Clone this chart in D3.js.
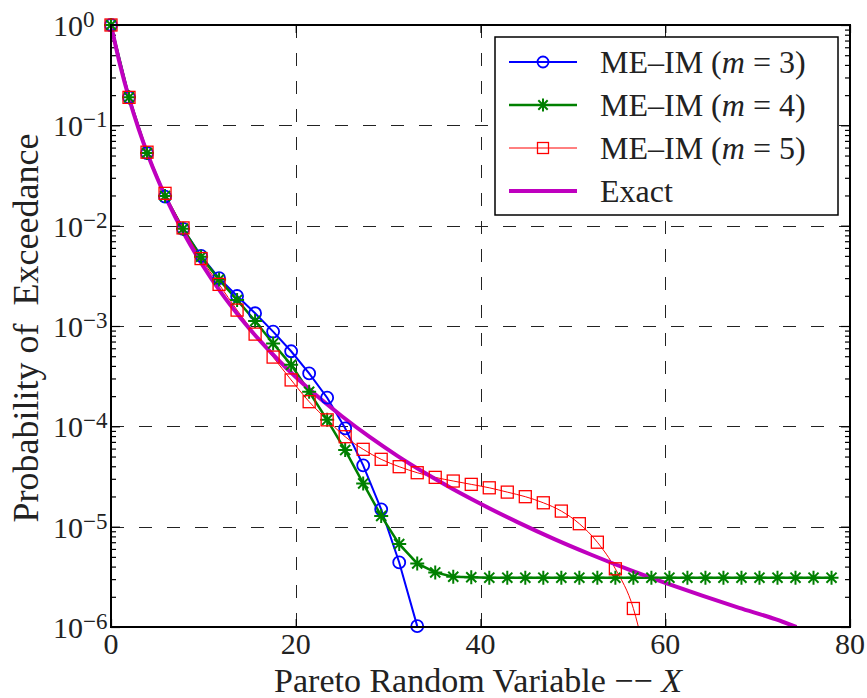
<!DOCTYPE html>
<html>
<head>
<meta charset="utf-8">
<script src="https://cdn.jsdelivr.net/npm/d3@7"></script>
<style>
  body { margin: 0; background: #fff; }
  text { font-family: "Liberation Serif", "Times New Roman", serif; fill: #222; }
</style>
</head>
<body>
<svg id="chart" width="867" height="698"></svg>
<script>
// x positions of the markers (same grid for the three ME-IM series)
var xVals = [0, 1.95, 3.9, 5.85, 7.8, 9.75, 11.7, 13.65, 15.6, 17.55, 19.5, 21.45, 23.4, 25.35,
  27.3, 29.25, 31.2, 33.15, 35.1, 37.05, 39, 40.95, 42.9, 44.85, 46.8, 48.75, 50.7, 52.65,
  54.6, 56.55, 58.5, 60.45, 62.4, 64.35, 66.3, 68.25, 70.2, 72.15, 74.1, 76.05, 78];

var m3 = [1.0, 0.19, 0.053, 0.0195, 0.0093, 0.0050, 0.0030, 0.00199, 0.00134, 0.00088, 0.00056,
  0.000337, 0.000193, 0.0000955, 0.0000409, 0.0000149, 0.0000044, 0.00000102];

var m4 = [1.0, 0.19, 0.053, 0.0198, 0.0093, 0.0049, 0.0029, 0.00182, 0.00112, 0.00067, 0.00041,
  0.000221, 0.000116, 0.000058, 0.000027, 0.0000128, 0.0000067, 0.0000043, 0.0000035, 0.00000317,
  0.00000313, 0.0000031, 0.0000031, 0.0000031, 0.0000031, 0.0000031, 0.0000031, 0.0000031,
  0.0000031, 0.0000031, 0.0000031, 0.0000031, 0.0000031, 0.0000031, 0.0000031, 0.0000031,
  0.0000031, 0.0000031, 0.0000031, 0.0000031, 0.0000031];

var m5 = [1.0, 0.19, 0.054, 0.021, 0.0095, 0.0047, 0.0026, 0.00144, 0.00083, 0.00049, 0.00029,
  0.000176, 0.000116, 0.0000788, 0.0000590, 0.0000469, 0.0000396, 0.0000345, 0.0000310,
  0.0000285, 0.0000264, 0.0000244, 0.0000221, 0.0000199, 0.0000173, 0.0000143, 0.0000107,
  0.0000070, 0.0000038, 0.00000153, 0.00000025];

var exactX = [0, 1, 2, 3, 4, 5, 6, 8, 10, 12, 14, 16, 18, 20, 22, 25, 28, 31, 34, 37, 40, 44,
  48, 52, 56, 60, 64, 68, 72, 74.2];
var exactY = [1.0, 0.394, 0.180, 0.0917, 0.0507, 0.0298, 0.0185, 0.00802, 0.00393, 0.00210,
  0.00121, 0.000736, 0.000469, 0.000310, 0.000212, 0.000126, 0.0000783, 0.0000508, 0.0000342,
  0.0000237, 0.0000169, 0.0000111, 0.00000752, 0.00000525, 0.00000375, 0.00000275, 0.00000205,
  0.00000155, 0.00000119, 0.0000010];

var xTicks = [0, 20, 40, 60, 80];
var yExps = [0, -1, -2, -3, -4, -5, -6];
var legendLabels = ["3", "4", "5"];

var svg = d3.select("#chart");
var L = 111, R = 850, T = 25, B = 627;

var x = d3.scaleLinear().domain([0, 80]).range([L, R]);
var y = d3.scaleLog().domain([1e-6, 1]).range([B, T]);

svg.append("defs").append("clipPath").attr("id", "clip")
  .append("rect").attr("x", L).attr("y", T).attr("width", R - L).attr("height", B - T);

// grid
var grid = svg.append("g").attr("stroke", "#222").attr("stroke-width", 1).attr("stroke-dasharray", "13,15");
grid.selectAll(".gx").data([20, 40, 60]).enter().append("line")
  .attr("x1", function (d) { return Math.round(x(d)) + 0.5; })
  .attr("x2", function (d) { return Math.round(x(d)) + 0.5; })
  .attr("y1", T).attr("y2", B);
grid.selectAll(".gy").data([-1, -2, -3, -4, -5]).enter().append("line")
  .attr("y1", function (d) { return Math.round(y(Math.pow(10, d))) + 0.5; })
  .attr("y2", function (d) { return Math.round(y(Math.pow(10, d))) + 0.5; })
  .attr("x1", L).attr("x2", R);

// axes ticks (inward), minor ticks on log axes
var minor = [];
for (var e = -6; e < 0; e++) {
  for (var k = 2; k <= 9; k++) minor.push(k * Math.pow(10, e));
}
var majors = yExps.map(function (d) { return Math.pow(10, d); });

function clean(g) {
  g.select(".domain").remove();
  g.selectAll(".tick line").attr("stroke", "#000").attr("stroke-width", 1.2);
  g.selectAll(".tick text").remove();
}
svg.append("g").attr("transform", "translate(0," + B + ")")
  .call(d3.axisBottom(x).tickValues(xTicks).tickSize(-8)).call(clean);
svg.append("g").attr("transform", "translate(0," + T + ")")
  .call(d3.axisTop(x).tickValues(xTicks).tickSize(-8)).call(clean);
svg.append("g").attr("transform", "translate(" + L + ",0)")
  .call(d3.axisLeft(y).tickValues(majors).tickSize(-9)).call(clean);
svg.append("g").attr("transform", "translate(" + L + ",0)")
  .call(d3.axisLeft(y).tickValues(minor).tickSize(-5)).call(clean);
svg.append("g").attr("transform", "translate(" + R + ",0)")
  .call(d3.axisRight(y).tickValues(majors).tickSize(-9)).call(clean);
svg.append("g").attr("transform", "translate(" + R + ",0)")
  .call(d3.axisRight(y).tickValues(minor).tickSize(-5)).call(clean);

// series
function pts(xs, ys) {
  return ys.map(function (v, i) { return [xs[i], v]; });
}
var line = d3.line().x(function (d) { return x(d[0]); }).y(function (d) { return y(d[1]); });
var smooth = d3.line().curve(d3.curveMonotoneX)
  .x(function (d) { return x(d[0]); }).y(function (d) { return y(d[1]); });

var plot = svg.append("g");
var lines = plot.append("g").attr("clip-path", "url(#clip)");

function starPath(s) {
  var d = s * 0.72;
  return "M" + (-s) + ",0H" + s + "M0," + (-s) + "V" + s +
    "M" + (-d) + "," + (-d) + "L" + d + "," + d + "M" + (-d) + "," + d + "L" + d + "," + (-d);
}
function inside(d) { return d[1] >= 1e-6 && d[1] <= 1 && d[0] <= 80; }

// m = 3
var s3 = pts(xVals, m3);
lines.append("path").datum(s3).attr("d", line).attr("fill", "none")
  .attr("stroke", "#0000ff").attr("stroke-width", 2);
plot.append("g").selectAll("circle").data(s3.filter(inside)).enter().append("circle")
  .attr("cx", function (d) { return x(d[0]); }).attr("cy", function (d) { return y(d[1]); })
  .attr("r", 6).attr("fill", "none").attr("stroke", "#0000ff").attr("stroke-width", 1.8);

// m = 4
var s4 = pts(xVals, m4);
lines.append("path").datum(s4).attr("d", line).attr("fill", "none")
  .attr("stroke", "#008000").attr("stroke-width", 2.5);
plot.append("g").selectAll("path").data(s4.filter(inside)).enter().append("path")
  .attr("transform", function (d) { return "translate(" + x(d[0]) + "," + y(d[1]) + ")"; })
  .attr("d", starPath(7)).attr("fill", "none").attr("stroke", "#008000").attr("stroke-width", 2);

// m = 5
var s5 = pts(xVals, m5);
lines.append("path").datum(s5).attr("d", smooth).attr("fill", "none")
  .attr("stroke", "#ff0000").attr("stroke-width", 1);
plot.append("g").selectAll("rect").data(s5.filter(inside)).enter().append("rect")
  .attr("x", function (d) { return x(d[0]) - 6; }).attr("y", function (d) { return y(d[1]) - 6; })
  .attr("width", 12).attr("height", 12)
  .attr("fill", "none").attr("stroke", "#ff0000").attr("stroke-width", 1.3);

// exact
lines.append("path").datum(pts(exactX, exactY)).attr("d", smooth).attr("fill", "none")
  .attr("stroke", "#bf00bf").attr("stroke-width", 4);

// axes box
svg.append("rect").attr("x", L).attr("y", T).attr("width", R - L).attr("height", B - T)
  .attr("fill", "none").attr("stroke", "#000").attr("stroke-width", 2);

// tick labels
svg.append("g").selectAll("text").data(xTicks).enter().append("text")
  .attr("x", function (d) { return x(d); }).attr("y", 654)
  .attr("text-anchor", "middle").attr("font-size", 30)
  .text(function (d) { return d; });

var yl = svg.append("g").selectAll("g").data(yExps).enter().append("g")
  .attr("transform", function (d) { return "translate(53," + y(Math.pow(10, d)) + ")"; });
yl.append("text").attr("x", 0).attr("y", 11).attr("font-size", 30).text("10");
yl.append("text").attr("x", 30).attr("y", 2).attr("font-size", 23)
  .text(function (d) { return d === 0 ? "0" : "\u2212" + (-d); });

// axis labels
var xl = svg.append("text").attr("x", 478).attr("y", 692).attr("text-anchor", "middle")
  .attr("font-size", 34);
xl.append("tspan").text("Pareto Random Variable \u2212\u2212 ");
xl.append("tspan").attr("font-style", "italic").text("X");

svg.append("text").attr("transform", "translate(38,328) rotate(-90)")
  .attr("text-anchor", "middle").attr("font-size", 36).style("white-space", "pre")
  .text("Probability of  Exceedance");

// legend
var lg = svg.append("g");
lg.append("rect").attr("x", 495).attr("y", 37).attr("width", 343).attr("height", 178)
  .attr("fill", "#fff").attr("stroke", "#000").attr("stroke-width", 1.5);
var rows = [62, 105, 148, 191];
var cols = ["#0000ff", "#008000", "#ff0000", "#bf00bf"];
var widths = [2, 2.5, 1, 4];
rows.forEach(function (ry, i) {
  lg.append("line").attr("x1", 509).attr("x2", 577).attr("y1", ry).attr("y2", ry)
    .attr("stroke", cols[i]).attr("stroke-width", widths[i]);
  var t = lg.append("text").attr("x", 600).attr("y", ry + 11).attr("font-size", 32);
  if (i < 3) {
    t.append("tspan").text("ME\u2013IM (");
    t.append("tspan").attr("font-style", "italic").text("m");
    t.append("tspan").text(" = " + legendLabels[i] + ")");
  } else {
    t.text("Exact");
  }
});
lg.append("circle").attr("cx", 543).attr("cy", rows[0]).attr("r", 5.5)
  .attr("fill", "none").attr("stroke", "#0000ff").attr("stroke-width", 1.8);
lg.append("path").attr("transform", "translate(543," + rows[1] + ")").attr("d", starPath(6.5))
  .attr("fill", "none").attr("stroke", "#008000").attr("stroke-width", 2);
lg.append("rect").attr("x", 537.5).attr("y", rows[2] - 5.5).attr("width", 11).attr("height", 11)
  .attr("fill", "none").attr("stroke", "#ff0000").attr("stroke-width", 1.3);
</script>
</body>
</html>
